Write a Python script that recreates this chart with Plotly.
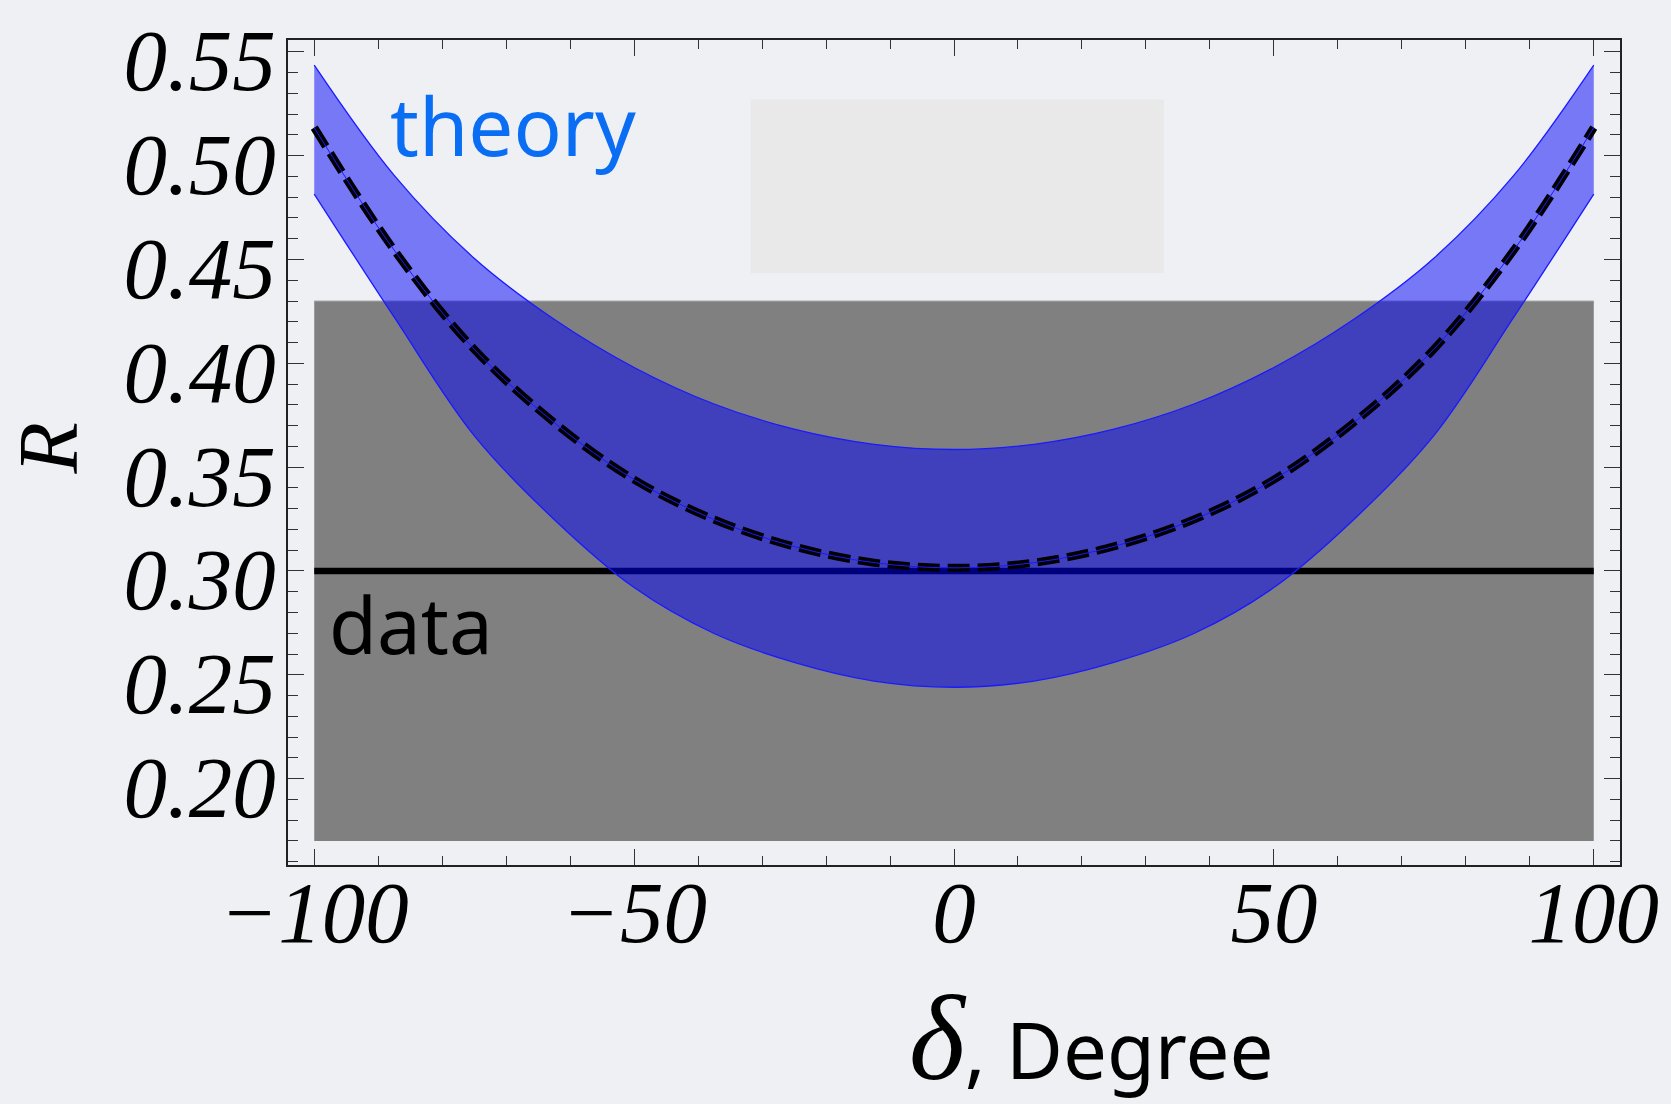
import plotly.graph_objects as go

# ---- data ----
delta = [-100, -87.5, -75, -62.5, -50, -37.5, -25, -12.5, 0,
         12.5, 25, 37.5, 50, 62.5, 75, 87.5, 100]
theory_upper = [0.5436, 0.4905, 0.4506, 0.4212, 0.398, 0.3804, 0.3683, 0.361, 0.3585,
                0.361, 0.3683, 0.3804, 0.398, 0.4212, 0.4506, 0.4905, 0.5436]
theory_central = [0.5135, 0.4545, 0.4068, 0.3715, 0.344, 0.3248, 0.3118, 0.304, 0.3015,
                  0.304, 0.3118, 0.3248, 0.344, 0.3715, 0.4068, 0.4545, 0.5135]
theory_lower = [0.4815, 0.4222, 0.3652, 0.3248, 0.292, 0.2699, 0.256, 0.247, 0.244,
                0.247, 0.256, 0.2699, 0.292, 0.3248, 0.3652, 0.4222, 0.4815]

data_x = [-100, 100]
data_value = 0.30
data_error = 0.13

x_ticks = [-100, -50, 0, 50, 100]
x_ticktext = ["\u2212100", "\u221250", "0", "50", "100"]
y_ticks = [0.20, 0.25, 0.30, 0.35, 0.40, 0.45, 0.50, 0.55]
y_ticktext = ["0.20", "0.25", "0.30", "0.35", "0.40", "0.45", "0.50", "0.55"]

BG = "#eef0f3"
SERIF = "Liberation Serif"
COMIC = "Noto Sans"
BLUE_EDGE = "#1a1aff"

fig = go.Figure()

# experimental band (gray)
fig.add_trace(go.Scatter(x=data_x, y=[data_value - data_error] * len(data_x), mode="lines",
                         line=dict(width=0, color="#808080"), showlegend=False, hoverinfo="skip"))
fig.add_trace(go.Scatter(x=data_x, y=[data_value + data_error] * len(data_x), mode="lines",
                         line=dict(width=1, color="#a8a8a8"), fill="tonexty",
                         fillcolor="#808080", showlegend=False, hoverinfo="skip"))
# central data line
fig.add_trace(go.Scatter(x=data_x, y=[data_value] * len(data_x), mode="lines",
                         line=dict(width=6.5, color="black"), showlegend=False))

# theory band
spl = dict(shape="spline", smoothing=1.0)
fig.add_trace(go.Scatter(x=delta, y=theory_lower, mode="lines",
                         line=dict(width=1.3, color=BLUE_EDGE, **spl), showlegend=False))
fig.add_trace(go.Scatter(x=delta, y=theory_upper, mode="lines",
                         line=dict(width=1.3, color=BLUE_EDGE, **spl),
                         fill="tonexty", fillcolor="rgba(0,0,250,0.5)", showlegend=False))
# theory central (black dashes with thin blue line on top)
fig.add_trace(go.Scatter(x=delta, y=theory_central, mode="lines",
                         line=dict(width=8, color="black", dash="22px,8px", **spl),
                         showlegend=False))
fig.add_trace(go.Scatter(x=delta, y=theory_central, mode="lines",
                         line=dict(width=1.0, color=BLUE_EDGE, **spl), showlegend=False))

axis_common = dict(
    ticks="inside", ticklen=16, tickwidth=1.2, tickcolor="#333",
    showline=True, linecolor="#222", linewidth=1.5, mirror="ticks",
    showgrid=False, zeroline=False,
    tickfont=dict(family=SERIF, size=87, color="black", style="italic"),
)

fig.update_xaxes(range=[-104.1, 104.1], tickvals=x_ticks, ticktext=x_ticktext,
                 ticklabelstandoff=-29,
                 minor=dict(dtick=10, tick0=0, ticks="inside", ticklen=9, tickcolor="#333", tickwidth=1.2),
                 **axis_common)
fig.update_yaxes(range=[0.1584, 0.5557], tickvals=y_ticks, ticktext=y_ticktext,
                 ticklabelstandoff=-7, ticklabelshift=8,
                 minor=dict(dtick=0.01, tick0=0.2, ticks="inside", ticklen=10, tickcolor="#333", tickwidth=1.2),
                 **axis_common)

fig.update_layout(
    width=1671, height=1104,
    margin=dict(l=288, r=43, t=38, b=239),
    paper_bgcolor=BG, plot_bgcolor="rgba(0,0,0,0)",
    shapes=[dict(type="rect", xref="x", yref="y", x0=-31.8, x1=32.8, y0=0.4434, y1=0.527,
                 fillcolor="#e9e9e9", line=dict(width=0), layer="below")],
    annotations=[
        dict(text="theory", xref="paper", yref="paper", x=0.169, y=0.898,
             xanchor="center", yanchor="middle", showarrow=False,
             font=dict(family=COMIC, size=80, color="#0a6ef5")),
        dict(text="data", xref="paper", yref="paper", x=0.0927, y=0.292,
             xanchor="center", yanchor="middle", showarrow=False,
             font=dict(family=COMIC, size=78, color="black")),
        dict(text="R", xref="paper", yref="paper", x=-0.1795, y=0.5047, textangle=-90,
             xanchor="center", yanchor="middle", showarrow=False,
             font=dict(family=SERIF, size=84, color="black", style="italic")),
        dict(text="<i>\u03b4</i><span style='font-family:Noto Sans;font-size:78px'>, Degree</span>",
             xref="paper", yref="paper", x=0.603, y=-0.21,
             xanchor="center", yanchor="middle", showarrow=False,
             font=dict(family=SERIF, size=120, color="black")),
    ],
)

fig.write_html("out.html", config={"displayModeBar": False},
               post_script="document.body.style.margin='0px';")
